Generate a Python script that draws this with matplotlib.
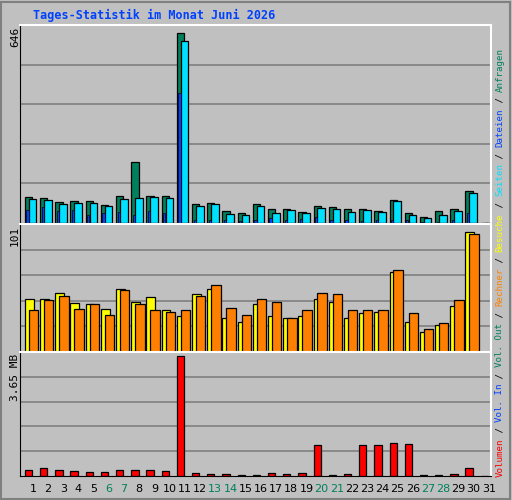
import matplotlib
matplotlib.use("Agg")
import matplotlib.pyplot as plt
import numpy as np

days = list(range(1, 32))
hits = [88, 85, 71, 74, 74, 61, 91, 206, 91, 91, 646, 64, 68, 41, 34, 64, 47, 47, 37, 57,
        54, 47, 47, 41, 78, 34, 20, 41, 47, 108, 0]
files = [81, 78, 64, 68, 68, 57, 81, 85, 88, 85, 619, 57, 64, 30, 27, 57, 34, 44, 34, 51,
         47, 37, 44, 37, 74, 27, 17, 27, 41, 101, 0]
pages = [44, 54, 41, 44, 27, 34, 37, 27, 41, 34, 443, 10, 10, 10, 7, 10, 17, 10, 14, 20,
         10, 10, 7, 10, 10, 10, 3, 3, 10, 34, 0]
visits = [45, 45, 50, 41, 40, 36, 53, 42, 46, 35, 30, 49, 53, 29, 25, 40, 30, 29, 30, 45,
          42, 29, 33, 34, 67, 25, 17, 23, 39, 101, 0]
hosts = [35, 44, 47, 36, 40, 31, 52, 40, 35, 34, 35, 47, 56, 37, 31, 45, 42, 29, 35, 50,
         49, 35, 35, 35, 69, 33, 19, 24, 44, 99, 0]
volume_mb = [0.19, 0.25, 0.19, 0.16, 0.13, 0.13, 0.19, 0.19, 0.19, 0.16, 3.65, 0.10, 0.07,
             0.07, 0.04, 0.04, 0.10, 0.07, 0.10, 0.93, 0.04, 0.07, 0.93, 0.93, 0.99, 0.96,
             0.04, 0.04, 0.07, 0.25, 0.0]
weekend = [6, 7, 13, 14, 20, 21, 27, 28]

BG = "#c0c0c0"
GREEN = "#00805c"
CYAN = "#00e0ff"
BLUE = "#0040ff"
YELLOW = "#ffff00"
ORANGE = "#ff8000"
RED = "#ff0000"
MONO = "DejaVu Sans Mono"

W, H = 512, 500
fig = plt.figure(figsize=(W / 100, H / 100), dpi=100, facecolor=BG)


def px_axes(x0, y0, x1, y1):
    return fig.add_axes([x0 / W, 1 - y1 / H, (x1 - x0) / W, (y1 - y0) / H])


x = np.array(days)
xlim = (0.15, 31.15)


def style(ax, top, nlines):
    ax.set_facecolor(BG)
    ax.set_xlim(*xlim)
    ax.set_ylim(0, top)
    for k in range(1, nlines + 1):
        ax.axhline(top * k / (nlines + 1), color="#808080", lw=1.2, zorder=0)
    ax.set_xticks([])
    ax.set_yticks([])
    for s in ["left", "bottom"]:
        ax.spines[s].set_color("black")
    for s in ["top", "right"]:
        ax.spines[s].set_color("white")
        ax.spines[s].set_linewidth(1.5)


kw = dict(edgecolor="black", linewidth=0.9, align="edge")

ax1 = px_axes(20, 25, 491, 223)
style(ax1, 646 * 1.02 * 196 / 192, 4)
ax1.bar(x - 0.53, hits, 0.48, color=GREEN, **kw)
ax1.bar(x - 0.27, files, 0.5, color=CYAN, **kw)
ax1.bar(x - 0.43, pages, 0.15, color=BLUE, edgecolor="black", linewidth=0.5,
        align="edge", zorder=3)

ax2 = px_axes(20, 224, 491, 352)
style(ax2, 101 * 128 / 120, 4)
ax2.bar(x - 0.53, visits, 0.58, color=YELLOW, **kw)
ax2.bar(x - 0.27, hosts, 0.62, color=ORANGE, **kw)

ax3 = px_axes(20, 352, 491, 476)
style(ax3, 3.65 * 124 / 120, 4)
ax3.bar(x - 0.53, volume_mb, 0.48, color=RED, **kw)

# day labels
for d in days:
    fig.text((20 + (d - xlim[0]) * 471 / 31) / W, 1 - 489 / H, str(d),
             ha="center", va="center", fontsize=8, family="DejaVu Sans",
             color=GREEN if d in weekend else "black")

fig.text(33 / W, 1 - 15 / H, "Tages-Statistik im Monat Juni 2026", color=BLUE,
         fontsize=8.5, family=MONO, fontweight="bold", ha="left", va="center")

for label, ytop in [("646", 27), ("101", 226), ("3.65 MB", 354)]:
    fig.text(15 / W, 1 - ytop / H, label, rotation=90, ha="center", va="top",
             fontsize=8, family=MONO)

# right legend, stacked from the bottom upward
pieces = [("Volumen", RED), (" / ", "black"), ("Vol. In", BLUE), (" / ", "black"),
          ("Vol. Out", GREEN), (" / ", "black"), ("Rechner", ORANGE), (" / ", "black"),
          ("Besuche", YELLOW), (" / ", "black"), ("Seiten", CYAN), (" / ", "black"),
          ("Dateien", BLUE), (" / ", "black"), ("Anfragen", GREEN)]
renderer = fig.canvas.get_renderer()
ypos = 477.0
for txt, col in pieces:
    t = fig.text(500 / W, 1 - ypos / H, txt, rotation=90, ha="center", va="bottom",
                 fontsize=6.6, family=MONO, color=col)
    ext = t.get_window_extent(renderer)
    ypos -= ext.height

# outer bevel
fig.add_artist(plt.Rectangle((1 / W, 1 / H), 1 - 3 / W, 1 - 3 / H, fill=False,
                             edgecolor="#808080", lw=1.5, transform=fig.transFigure))

fig.savefig("out.png", dpi=100, facecolor=BG)
